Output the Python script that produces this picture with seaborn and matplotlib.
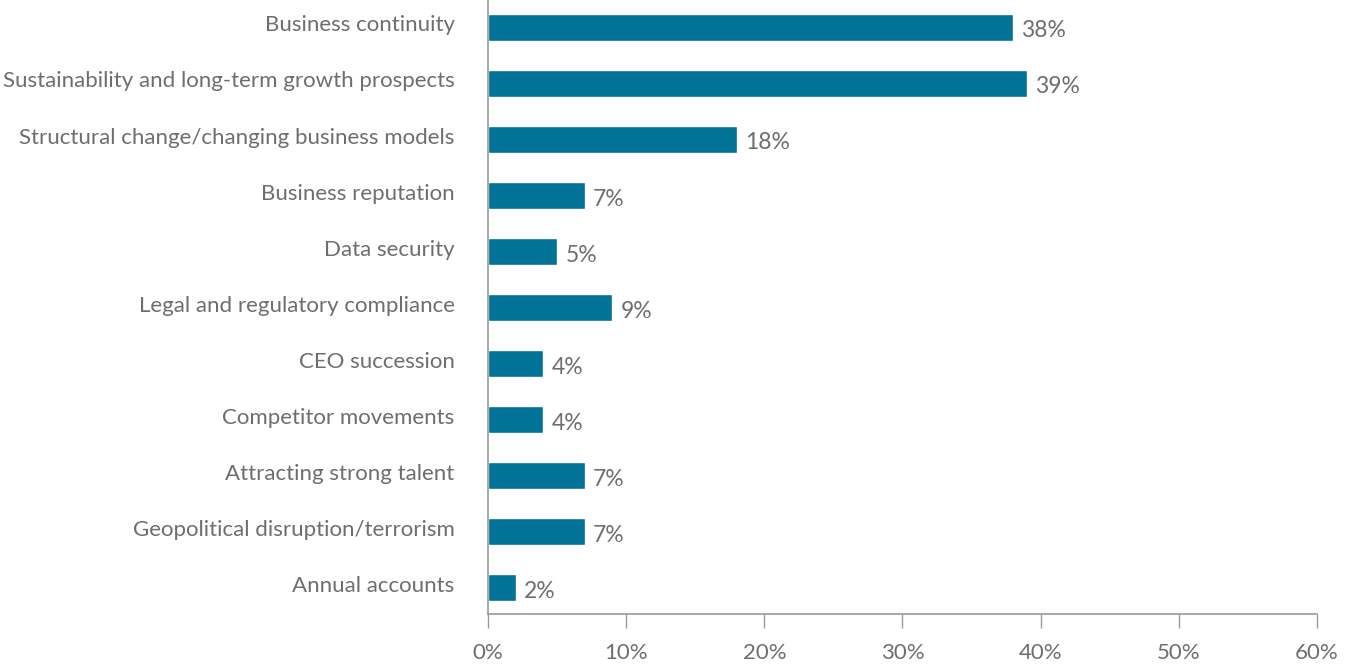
import matplotlib
matplotlib.use("Agg")
import matplotlib.pyplot as plt
import matplotlib.transforms as mtransforms
import seaborn as sns
import pandas as pd

categories = [
    "Business continuity",
    "Sustainability and long-term growth prospects",
    "Structural change/changing business models",
    "Business reputation",
    "Data security",
    "Legal and regulatory compliance",
    "CEO succession",
    "Competitor movements",
    "Attracting strong talent",
    "Geopolitical disruption/terrorism",
    "Annual accounts",
]
values = [38, 39, 18, 7, 5, 9, 4, 4, 7, 7, 2]
x_ticks = [0, 10, 20, 30, 40, 50, 60]
x_tick_labels = ["0%", "10%", "20%", "30%", "40%", "50%", "60%"]

df = pd.DataFrame({"category": categories, "value": values})

sns.set_theme(style="white")
plt.rcParams["font.family"] = ["Lato", "DejaVu Sans"]

BAR = "#007396"
TEXT = "#6d6e71"
AXIS = "#9a9a9c"

fig = plt.figure(figsize=(13.48, 6.66), dpi=100)
ax = fig.add_axes([0.362, 0.078, 0.977 - 0.362, 0.922])

sns.barplot(data=df, x="value", y="category", order=categories,
            color=BAR, width=0.48, saturation=1, ax=ax)

for i, v in enumerate(values):
    ax.annotate(f"{v}%", xy=(v, i), xytext=(6, -2.5), textcoords="offset points",
                ha="left", va="center", fontsize=16.5, color=TEXT)

ax.set_xlim(0, 60)
ax.set_ylim(10.47, -0.49)
ax.set_xticks(x_ticks)
ax.set_xticklabels(x_tick_labels, fontsize=16, color=TEXT)
ax.set_xlabel("")
ax.set_ylabel("")
ax.tick_params(axis="x", length=10, width=1, color=AXIS, pad=11, direction="out", bottom=True)
ax.tick_params(axis="y", length=0, pad=24, labelsize=16, labelcolor=TEXT)

# nudge category labels slightly upward
shift = mtransforms.ScaledTranslation(0, 4 / 100, fig.dpi_scale_trans)
for lbl in ax.get_yticklabels():
    lbl.set_transform(lbl.get_transform() + shift)

for side in ["top", "right"]:
    ax.spines[side].set_visible(False)
for side in ["left", "bottom"]:
    ax.spines[side].set_color(AXIS)
    ax.spines[side].set_linewidth(1.2)

fig.savefig("out.png", dpi=100)
